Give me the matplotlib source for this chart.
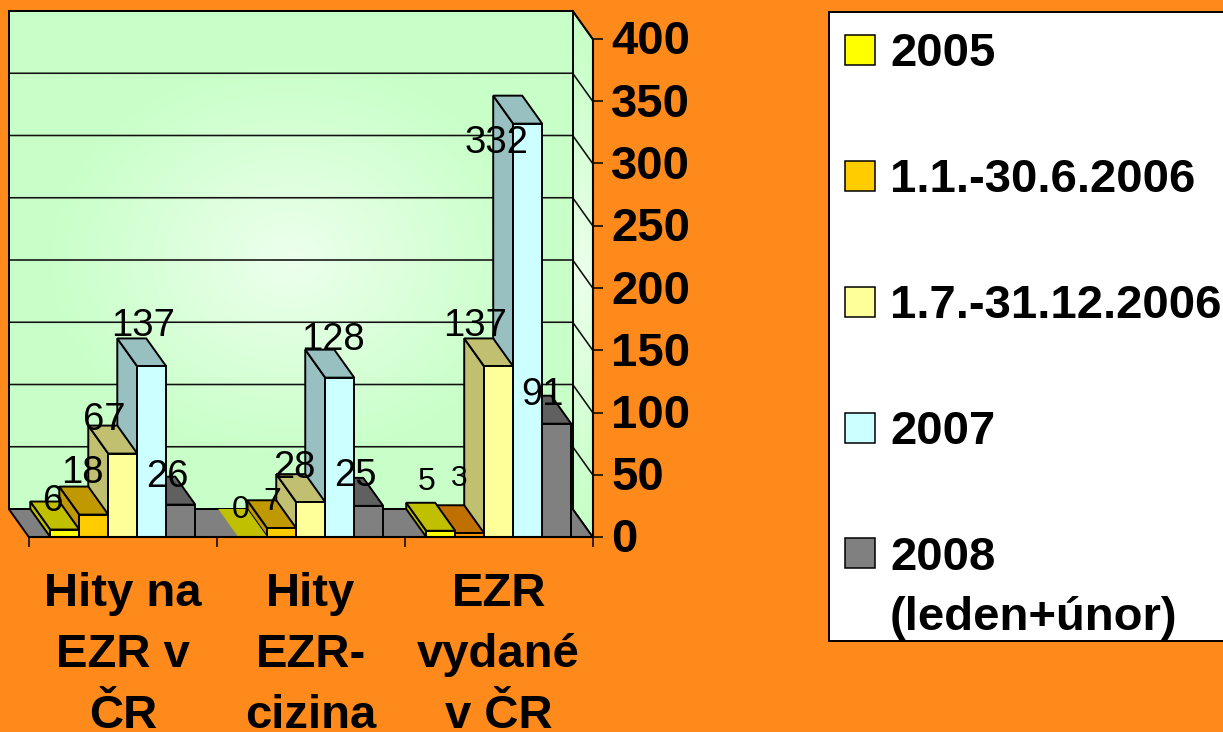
import numpy as np
import matplotlib
matplotlib.use("Agg")
import matplotlib.pyplot as plt
from matplotlib.patches import Patch, Rectangle, Polygon
from matplotlib.legend_handler import HandlerPatch
from matplotlib.colors import to_rgb
from matplotlib.transforms import ScaledTranslation

plt.rcParams['font.family'] = ['Liberation Sans', 'DejaVu Sans']

categories = ["Hity na\nEZR v\nČR", "Hity\nEZR-\ncizina", "EZR\nvydané\nv ČR"]
series_names = ["2005", "1.1.-30.6.2006", "1.7.-31.12.2006", "2007", "2008\n(leden+únor)"]
v2005 = [6, 0, 5]
v2006a = [18, 7, 3]
v2006b = [67, 28, 137]
v2007 = [137, 128, 332]
v2008 = [26, 25, 91]
series_values = [v2005, v2006a, v2006b, v2007, v2008]
y_ticks = [0, 50, 100, 150, 200, 250, 300, 350, 400]

front_colors = ["#FFFF00", "#FFCC00", "#FFFF99", "#CCFFFF", "#808080"]
shade_colors = ["#C0C000", "#C09900", "#C0C070", "#99C0C0", "#606060"]

W, H = 1223, 732
BG = "#FF8A1C"
fig = plt.figure(figsize=(W / 100, H / 100), dpi=100, facecolor=BG)
L, R, T, B = 28.8, 592.7, 39.0, 537.0
ax = fig.add_axes([L / W, 1 - B / H, (R - L) / W, (B - T) / H])
ax.patch.set_visible(False)

px_x = (R - L) / 3
px_y = (B - T) / 400
DX = -20 / px_x
DY = 28 / px_y
BW = 29 / px_x
LW = 1.4
FS = 34.0


def gradient(nx, ny, fn):
    u, v = np.meshgrid(np.linspace(-1, 1, nx), np.linspace(-1, 1, ny))
    t = np.clip(fn(u, v), 0, 1)[..., None]
    a, b = np.array(to_rgb("#EDFFED")), np.array(to_rgb("#C8FFC8"))
    return a * (1 - t) + b * t


# back wall
ax.imshow(gradient(300, 300, lambda u, v: np.sqrt((u * 1.15) ** 2 + (v * 1.25) ** 2)),
          extent=[DX, 3 + DX, DY, 400 + DY], origin='lower', aspect='auto', zorder=1, clip_on=False)
# right wall
im = ax.imshow(gradient(30, 300, lambda u, v: np.abs(v) * 1.1 + 0.15 * np.abs(u)),
               extent=[3 + DX, 3, 0, 400 + DY], origin='lower', aspect='auto', zorder=1)
wall = Polygon([(3 + DX, DY), (3, 0), (3, 400), (3 + DX, 400 + DY)], transform=ax.transData,
               fc='none', ec='none', clip_on=False)
ax.add_patch(wall)
im.set_clip_path(wall)
im.set_clip_box(fig.bbox)

for t in y_ticks:
    ax.plot([DX, 3 + DX, 3], [t + DY, t + DY, t], color='#101010', lw=1.15, zorder=2, clip_on=False,
            solid_joinstyle='miter')
ax.plot([DX, DX, 3 + DX, 3 + DX], [DY, 400 + DY, 400 + DY, DY], color='k', lw=LW, zorder=2.1, clip_on=False)
ax.plot([3 + DX, 3], [400 + DY, 400], color='k', lw=LW, zorder=2.1, clip_on=False)
# floor
ax.fill([0, 3, 3 + DX, DX], [0, 0, DY, DY], fc="#808080", ec='k', lw=LW, zorder=2.2, clip_on=False)

z = 3.0
for i in reversed(range(len(categories))):
    for j in reversed(range(len(series_values))):
        val = series_values[j][i]
        x0 = i + 0.5 + (j - 2.5) * BW
        x1 = x0 + BW
        front, shade = front_colors[j], shade_colors[j]
        if i == 2 and j == 1:
            front, shade = "#FF9900", "#C07000"
        ec = 'k' if val > 0 else 'none'
        ax.fill([x0, x0, x0 + DX, x0 + DX], [0, val, val + DY, DY], fc=shade, ec=ec, lw=LW, zorder=z, clip_on=False)
        ax.fill([x0, x1, x1 + DX, x0 + DX], [val, val, val + DY, val + DY], fc=shade, ec=ec, lw=LW, zorder=z + .01, clip_on=False)
        ax.bar(x0, val, BW, align='edge', fc=front, ec=ec, lw=LW, zorder=z + .02, clip_on=False)
        z += 0.1

# value label placement relative to each bar's front-top centre, pixels
label_offsets = [
    [(-12, 28), (-11, 42), (-19, 34), (-9, 40), (-13, 28)],
    [(-12, 27), (-10, 26), (-16, 34), (-7, 38), (-13, 30)],
    [(-14, 49), (-11, 55), (-24, 40), (-31, -19), (-14, 29)],
]
label_sizes = [
    [26.5, 27.5, 27.5, 27.5, 27.5],
    [23, 23, 27.5, 27.5, 27.5],
    [23, 21.5, 27.5, 27.5, 27.5],
]
for i in range(len(categories)):
    for j, vals in enumerate(series_values):
        ax.annotate(str(vals[i]), (i + 0.5 + (j - 2) * BW, vals[i]), xytext=label_offsets[i][j],
                    textcoords='offset pixels', ha='center', va='center', fontsize=label_sizes[i][j],
                    color='k', zorder=50, annotation_clip=False)

ax.set_xlim(0, 3)
ax.set_ylim(0, 400)
for s in ('top', 'left'):
    ax.spines[s].set_visible(False)
for s in ('right', 'bottom'):
    ax.spines[s].set_linewidth(1.5)
    ax.spines[s].set_zorder(40)
ax.yaxis.tick_right()
ax.set_yticks(y_ticks)
ax.tick_params(axis='y', length=7.2, width=1.1, pad=6, labelsize=FS)
lift_labels = ScaledTranslation(0, 1.5 / 100, fig.dpi_scale_trans)
for tick in ax.yaxis.get_major_ticks():
    tick.label2.set_fontweight('bold')
    tick.label2.set_transform(tick.label2.get_transform() + lift_labels)
ax.set_xticks([0, 1, 2, 3])
ax.set_xticklabels([])
ax.set_xticks([0.5, 1.5, 2.5], categories, minor=True)
ax.tick_params(axis='x', which='major', length=7.2, width=1.1)
ax.tick_params(axis='x', which='minor', length=0, pad=25.5, labelsize=FS)
for t in ax.get_xticklabels(minor=True):
    t.set_fontweight('bold')
    t.set_linespacing(1.49)

# legend frame, then entries: swatch stays with the first line of a two-line label
fig.add_artist(Rectangle((829 / W, 1 - 641 / H), 400 / W, 629 / H, transform=fig.transFigure,
                         fc='white', ec='k', lw=1.4))
LINE_LIFT_PT = 36 * 0.72


def swatch(legend, orig_handle, xdescent, ydescent, width, height, fontsize):
    lift = LINE_LIFT_PT * orig_handle.get_label().count("\n")
    return Rectangle((-xdescent, 0.9 + lift), width, 21.6)


handles = [Patch(fc=c, ec='k', lw=1.1, label=n) for c, n in zip(front_colors, series_names)]
leg = fig.legend(handles=handles, loc='upper left', bbox_to_anchor=(828 / W, 1 - 15 / H),
                 bbox_transform=fig.transFigure, borderaxespad=0,
                 prop={'weight': 'bold', 'size': FS}, frameon=False,
                 handlelength=0.635, handleheight=0.635, handletextpad=0.316,
                 labelspacing=1.735, borderpad=0.36,
                 handler_map={Patch: HandlerPatch(patch_func=swatch)})
for t in leg.get_texts():
    t.set_linespacing(1.49)

fig.savefig("out.png", dpi=100, facecolor=BG)
